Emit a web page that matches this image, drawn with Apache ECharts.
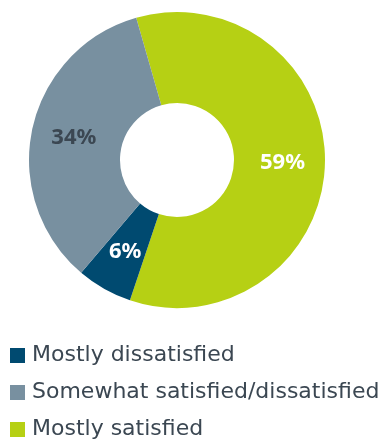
<!DOCTYPE html>
<html>
<head>
<meta charset="utf-8">
<script src="https://cdn.jsdelivr.net/npm/echarts@6/dist/echarts.min.js"></script>
<style>
  html, body { margin: 0; padding: 0; background: #fff; }
  #chart { width: 388px; height: 440px; }
</style>
</head>
<body>
<div id="chart"></div>
<script>
// clockwise order on the ring, starting just left of 12 o'clock
var categories = ['Mostly satisfied', 'Mostly dissatisfied', 'Somewhat satisfied/dissatisfied'];
var values = [59, 6, 34];
var legendOrder = ['Mostly dissatisfied', 'Somewhat satisfied/dissatisfied', 'Mostly satisfied'];

var colors = {
  'Mostly satisfied': '#b6d014',
  'Mostly dissatisfied': '#004a70',
  'Somewhat satisfied/dissatisfied': '#7890a0'
};
var labelColors = {
  'Mostly satisfied': '#ffffff',
  'Mostly dissatisfied': '#ffffff',
  'Somewhat satisfied/dissatisfied': '#3b4752'
};

var pieData = categories.map(function(name, i) {
  return {
    name: name,
    value: values[i],
    itemStyle: { color: colors[name] },
    label: { color: labelColors[name] }
  };
});

var myChart = echarts.init(document.getElementById('chart'));
var option = {
  animation: false,
  legend: {
    orient: 'vertical',
    left: 5,
    top: 338,
    height: 130,
    data: legendOrder,
    icon: 'rect',
    itemWidth: 15,
    itemHeight: 15,
    itemGap: 12,
    textStyle: {
      fontFamily: 'DejaVu Sans',
      fontSize: 22,
      lineHeight: 25,
      color: '#3b4752',
      padding: [0, 0, 0, 2]
    }
  },
  series: [
    {
      type: 'pie',
      radius: [57, 148],
      center: [177, 160],
      startAngle: 106,
      clockwise: true,
      avoidLabelOverlap: false,
      label: {
        position: 'inside',
        fontFamily: 'Noto Sans',
        fontWeight: 'bold',
        fontSize: 22,
        formatter: function(p) {
          return p.value + '%';
        }
      },
      labelLine: { show: false },
      emphasis: { disabled: true },
      data: pieData
    }
  ]
};
myChart.setOption(option);
</script>
</body>
</html>
